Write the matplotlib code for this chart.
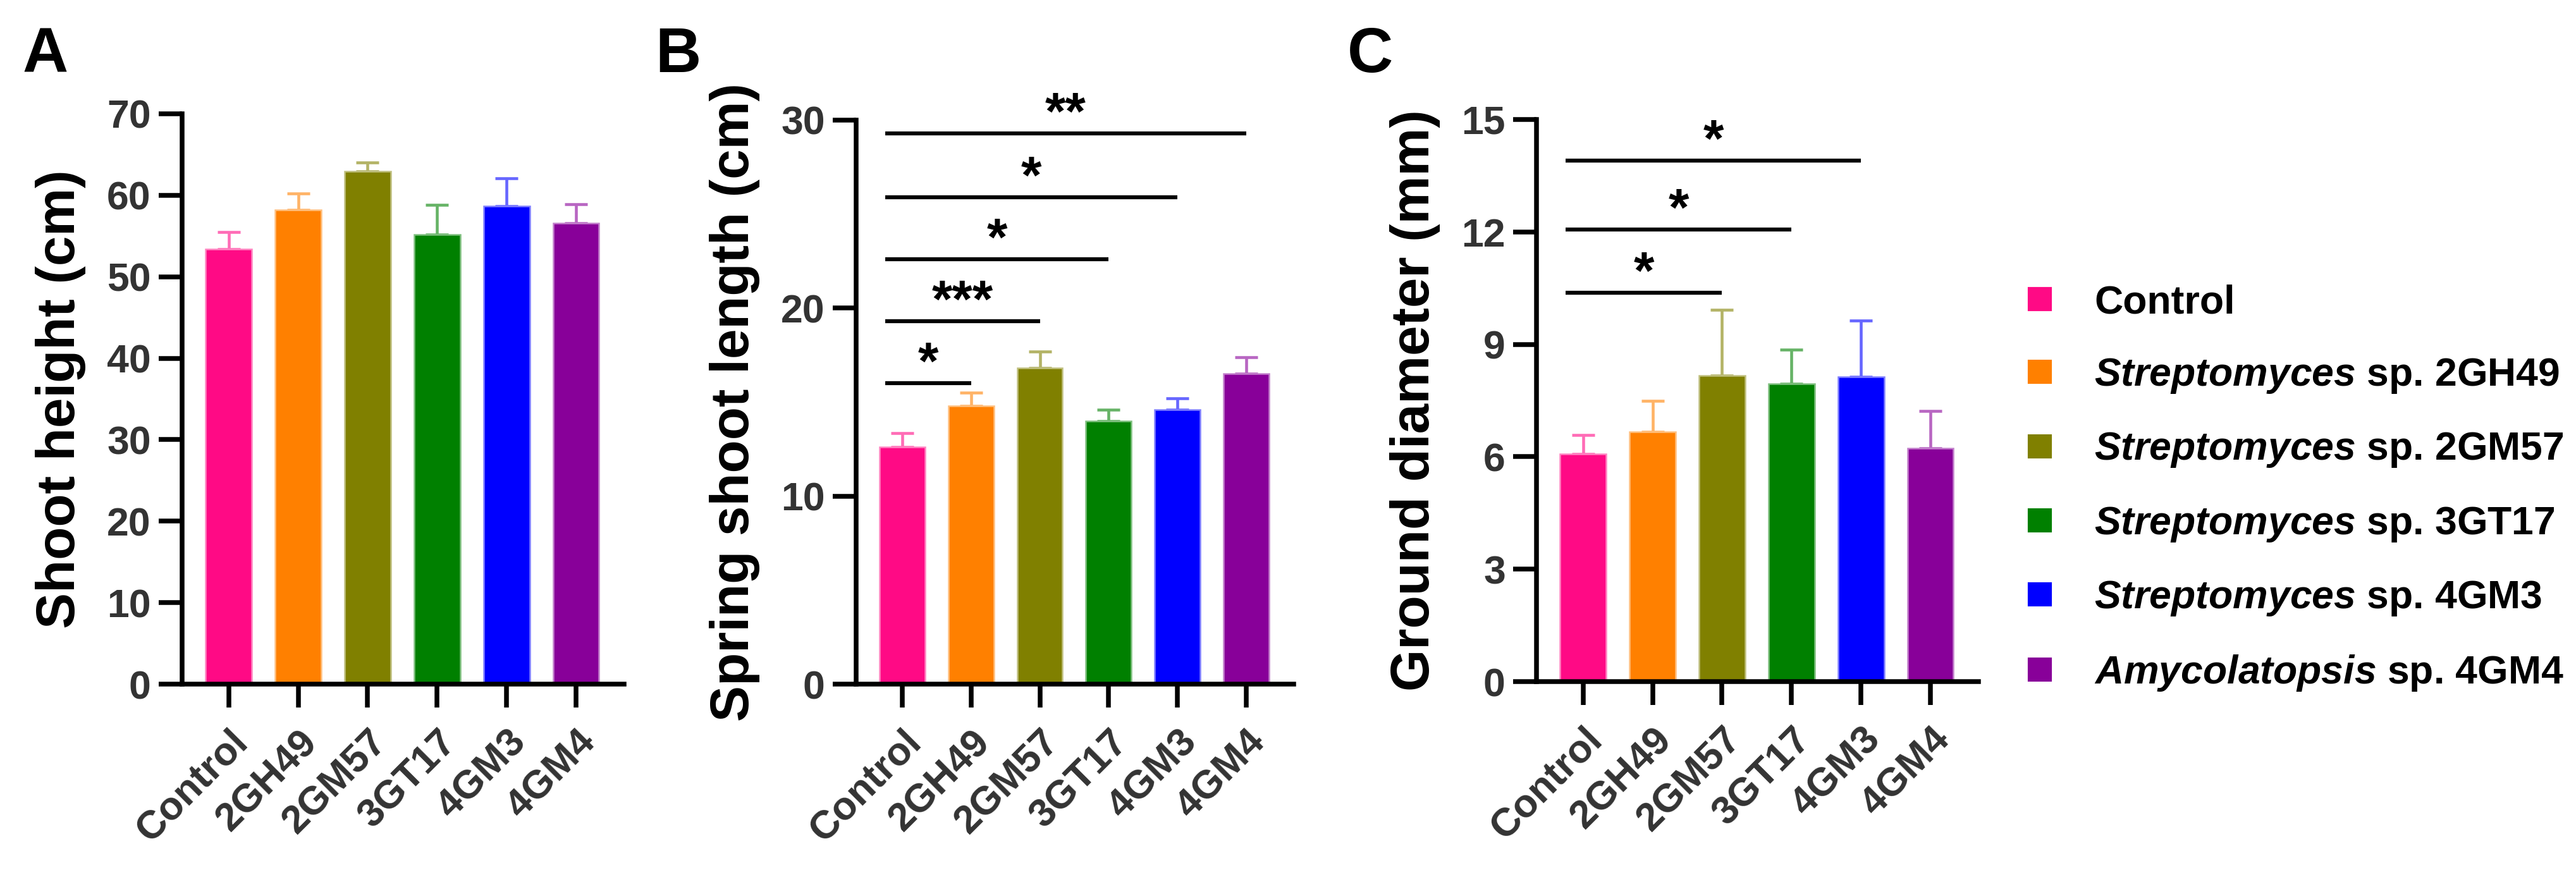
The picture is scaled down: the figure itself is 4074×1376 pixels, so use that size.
import numpy as np
import matplotlib
matplotlib.use('Agg')
import matplotlib.pyplot as plt
from matplotlib.colors import to_rgb
from matplotlib.lines import Line2D

plt.rcParams['font.family'] = ['Liberation Sans', 'DejaVu Sans']
plt.rcParams['font.weight'] = 'bold'
plt.rcParams['mathtext.fontset'] = 'custom'
plt.rcParams['mathtext.rm'] = 'Liberation Sans:bold'
plt.rcParams['mathtext.it'] = 'Liberation Sans:italic:bold'
plt.rcParams['mathtext.bf'] = 'Liberation Sans:bold'
plt.rcParams['mathtext.bfit'] = 'Liberation Sans:italic:bold'

# Data
groups = ['Control', '2GH49', '2GM57', '3GT17', '4GM3', '4GM4']
colors = ['#FF0A85', '#FF8000', '#808000', '#008000', '#0000FF', '#880099']
legend_labels = ['Control',
                 r'$\mathit{Streptomyces}$ sp. 2GH49',
                 r'$\mathit{Streptomyces}$ sp. 2GM57',
                 r'$\mathit{Streptomyces}$ sp. 3GT17',
                 r'$\mathit{Streptomyces}$ sp. 4GM3',
                 r'$\mathit{Amycolatopsis}$ sp. 4GM4']

shoot_height = [53.4, 58.2, 62.9, 55.2, 58.7, 56.6]
shoot_height_err = [2.1, 2.0, 1.1, 3.6, 3.4, 2.3]

spring_shoot = [12.6, 14.8, 16.8, 14.0, 14.6, 16.5]
spring_shoot_err = [0.75, 0.7, 0.9, 0.6, 0.6, 0.9]
spring_sig_targets = [1, 2, 3, 4, 5]
spring_sig_y = [16.0, 19.3, 22.6, 25.9, 29.3]
spring_sig_text = ['*', '***', '*', '*', '**']

ground_diam = [6.07, 6.67, 8.16, 7.95, 8.13, 6.23]
ground_diam_err = [0.51, 0.83, 1.76, 0.9, 1.51, 0.99]
ground_sig_targets = [2, 3, 4]
ground_sig_y = [10.37, 12.07, 13.9]
ground_sig_text = ['*', '*', '*']

W, H = 4074, 1376
fig = plt.figure(figsize=(W / 300, H / 300), dpi=300)


def lighter(c, f=0.4):
    r, g, b = to_rgb(c)
    return (r + (1 - r) * f, g + (1 - g) * f, b + (1 - b) * f)


def panel(rect, vals, errs, ylim, yticks, ylabel, labelpad):
    ax = fig.add_axes(rect)
    x = np.arange(len(groups))
    ax.bar(x, vals, width=0.66, color=colors, edgecolor=[lighter(c, 0.5) for c in colors],
           linewidth=0.6, zorder=2)
    for i in range(len(groups)):
        ax.errorbar(x[i], vals[i], yerr=[[0], [errs[i]]], fmt='none', ecolor=lighter(colors[i]),
                    elinewidth=1.1, capsize=4.4, capthick=1.1, zorder=1)
    ax.set_xlim(-0.67, 5.69)
    ax.set_ylim(*ylim)
    ax.set_yticks(yticks)
    ax.set_xticks(x)
    ax.set_xticklabels(groups, rotation=45, ha='right', va='top', rotation_mode='anchor')
    ax.spines['top'].set_visible(False)
    ax.spines['right'].set_visible(False)
    for s in ['left', 'bottom']:
        ax.spines[s].set_linewidth(1.8)
    ax.tick_params(axis='both', width=1.8, length=8.8, labelsize=15, labelcolor='#333333')
    ax.tick_params(axis='y', pad=3)
    ax.tick_params(axis='x', pad=6)
    ax.set_ylabel(ylabel, fontsize=20.5, fontweight='bold', labelpad=labelpad)
    return ax


def sig_lines(ax, targets, ys, texts):
    for t, y, s in zip(targets, ys, texts):
        ax.plot([-0.25, t], [y, y], color='black', lw=1.5, solid_capstyle='butt', clip_on=False)
        ax.annotate(s, ((-0.25 + t) / 2, y), xytext=(0, 1.5), textcoords='offset points',
                    ha='center', va='baseline', fontsize=20, fontweight='bold', annotation_clip=False)


axA = panel([288 / W, 1 - 1082 / H, 699 / W, 902 / H], shoot_height, shoot_height_err,
            (0, 70), np.arange(0, 71, 10), 'Shoot height (cm)', 8)
axB = panel([1354 / W, 1 - 1082 / H, 692 / W, 892 / H], spring_shoot, spring_shoot_err,
            (0, 30), [0, 10, 20, 30], 'Spring shoot length (cm)', 8)
sig_lines(axB, spring_sig_targets, spring_sig_y, spring_sig_text)
axC = panel([2430 / W, 1 - 1078 / H, 699 / W, 889 / H], ground_diam, ground_diam_err,
            (0, 15), np.arange(0, 16, 3), 'Ground diameter (mm)', 8)
sig_lines(axC, ground_sig_targets, ground_sig_y, ground_sig_text)

for letter, xp in zip(['A', 'B', 'C'], [36, 1036, 2131]):
    fig.text(xp / W, 1 - 114 / H, letter, fontsize=24, fontweight='bold', va='baseline', ha='left')

handles = [Line2D([], [], marker='s', linestyle='none', markersize=8, color=c) for c in colors]
fig.legend(handles, legend_labels, loc='upper left', bbox_to_anchor=(3170 / W, 1 - 424 / H),
           frameon=False, fontsize=15, handletextpad=0.88, labelspacing=0.9, borderaxespad=0,
           handlelength=1.0)

fig.savefig('out.png', dpi=300)
